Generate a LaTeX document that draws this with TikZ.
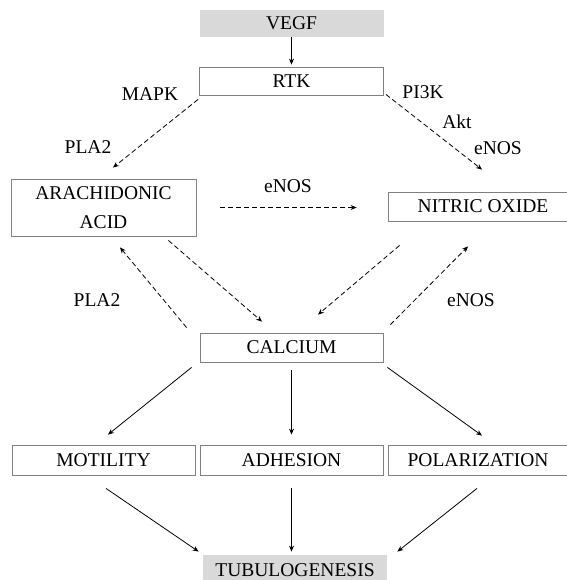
\documentclass[tikz,border=0pt]{standalone}
\usepackage{fontspec}
\setmainfont{Liberation Serif}
\usetikzlibrary{arrows.meta,positioning}

\begin{document}
\begin{tikzpicture}[
        x=1pt, y=-1pt,
        font=\fontsize{19.5}{29}\selectfont,
        box/.style={
            rectangle,
            draw=black!50,
            line width=0.8pt,
            inner sep=0pt,
            minimum width=184pt,
            minimum height=29pt,
            align=center
        },
        greybox/.style={box, draw=none, fill=gray!30},
        dasharrow/.style={-{Stealth[length=6pt,width=5pt]}, line width=0.8pt, dash pattern=on 5pt off 3pt},
        arrow/.style={-{Stealth[length=6pt,width=5pt]}, line width=0.8pt}
    ]
    \useasboundingbox (0,0) rectangle (566,580);

    % boxes
    \node[greybox, minimum height=27pt] (vegf) at (291.5,23.5) {VEGF};
    \node[box, minimum height=28pt] (rtk) at (291.5,81) {RTK};
    \node[box, minimum width=185pt, minimum height=57pt] (aa) at (103.5,207.5) {ARACHIDONIC \\ ACID};
    \node[box, minimum width=190pt] (no) at (483,206.5) {NITRIC OXIDE};
    \node[box, minimum width=183pt] (ca) at (291.5,347.5) {CALCIUM};
    \node[box, minimum width=183pt, minimum height=30pt] (mot) at (103.5,460) {MOTILITY};
    \node[box, minimum width=183pt, minimum height=30pt] (adh) at (291.5,460) {ADHESION};
    \node[box, minimum width=180pt, minimum height=30pt] (pol) at (478,460) {POLARIZATION};
    \node[greybox, minimum height=30pt] (tub) at (295,570) {TUBULOGENESIS};

    % labels
    \node (mapk) at (150,94) {MAPK};
    \node (pla2a) at (88,147) {PLA2};
    \node (pi3k) at (423,92) {PI3K};
    \node (akt) at (457,122) {Akt};
    \node (enosa) at (498,148) {eNOS};
    \node (enosb) at (288,186) {eNOS};
    \node (pla2b) at (97,300) {PLA2};
    \node (enosc) at (471,300) {eNOS};

    % dashed links
    \draw[dasharrow] ([xshift=-1pt,yshift=-4pt]rtk.south west) -- ([xshift=9.5pt,yshift=11pt]aa.north);
    \draw[dasharrow] ([xshift=2pt,yshift=1pt]rtk.south east) -- ([xshift=-1pt,yshift=22pt]no.north);
    \draw[dasharrow] ([xshift=24pt]aa.east) -- ([xshift=-31pt]no.west |- aa.east);
    \draw[dasharrow] ([xshift=-28pt,yshift=-4pt]aa.south east) -- ([xshift=-29.5pt,yshift=11pt]ca.north);
    \draw[dasharrow] ([xshift=12pt,yshift=-24pt]no.south west) -- ([xshift=26.5pt,yshift=18pt]ca.north);
    \draw[dasharrow] ([xshift=-13pt,yshift=5pt]ca.north west) -- ([xshift=16.5pt,yshift=-11pt]aa.south);
    \draw[dasharrow] ([xshift=7pt,yshift=8pt]ca.north east) -- ([xshift=-15pt,yshift=-25pt]no.south);

    % solid links
    \draw[arrow, shorten >=2pt] (vegf) -- (rtk);
    \draw[arrow] ([xshift=-8pt,yshift=-5pt]ca.south west) -- ([xshift=4.5pt,yshift=10pt]mot.north);
    \draw[arrow, shorten <=8pt, shorten >=10pt] (ca) -- (adh);
    \draw[arrow] ([xshift=4pt,yshift=-5pt]ca.south east) -- ([xshift=4pt,yshift=9pt]pol.north);
    \draw[arrow] ([xshift=2.5pt,yshift=-13pt]mot.south) -- ([xshift=-4pt,yshift=3pt]tub.north west);
    \draw[arrow, shorten <=13pt, shorten >=3pt] (adh.south) -- (adh.south |- tub.north);
    \draw[arrow] ([xshift=-1pt,yshift=-13pt]pol.south) -- ([xshift=10pt,yshift=3pt]tub.north east);

\end{tikzpicture}
\end{document}
